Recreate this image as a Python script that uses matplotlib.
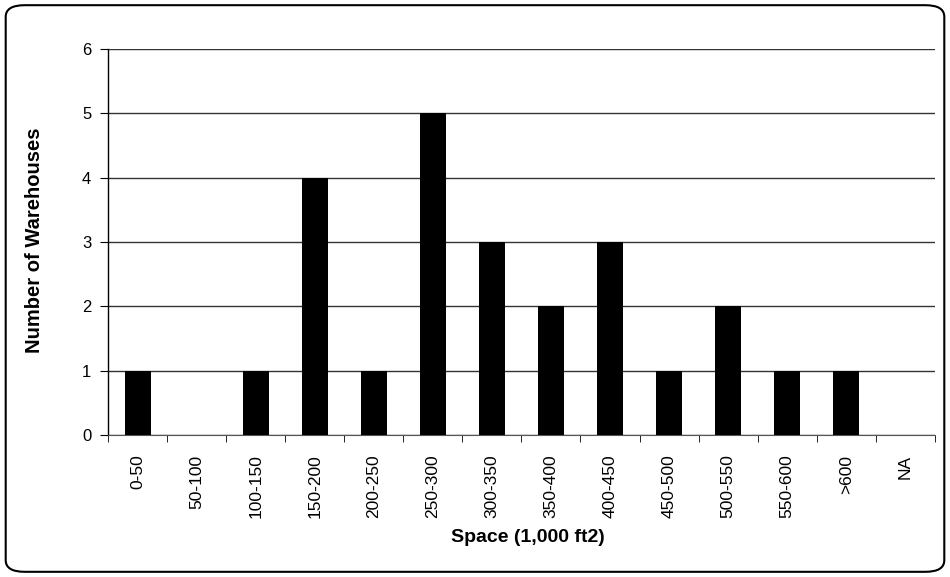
import matplotlib.pyplot as plt
from matplotlib.patches import FancyBboxPatch

# Datos
categorias = ['0-50', '50-100', '100-150', '150-200', '200-250', '250-300',
              '300-350', '350-400', '400-450', '450-500', '500-550',
              '550-600', '>600', 'NA']
almacenes = [1, 0, 1, 4, 1, 5, 3, 2, 3, 1, 2, 1, 1, 0]
y_ticks = [0, 1, 2, 3, 4, 5, 6]

plt.rcParams['font.family'] = ['Liberation Sans', 'DejaVu Sans']

fig = plt.figure(figsize=(9.5, 5.77), dpi=100)
ax = fig.add_axes([0.1137, 0.246, 0.8703, 0.669])

# Marco redondeado alrededor de todo el gráfico
marco = FancyBboxPatch((0.006, 0.009), 0.988, 0.982,
                       boxstyle="round,pad=0,rounding_size=0.02",
                       transform=fig.transFigure, fill=False,
                       edgecolor='black', linewidth=1.5)
fig.patches.append(marco)

x = range(len(categorias))
ax.bar(x, almacenes, width=0.44, color='black', zorder=3)

# Líneas de la cuadrícula
ax.set_yticks(y_ticks)
ax.yaxis.grid(True, color='#333333', linewidth=1, zorder=0)
ax.set_ylim(0, 6)
ax.set_xlim(-0.5, len(categorias) - 0.5)

ax.set_xticks(x)
ax.set_xticklabels(categorias, rotation=90, fontsize=12.5)
ax.tick_params(axis='y', labelsize=12, length=6, pad=6)
ax.tick_params(axis='x', length=0, pad=14)
# marcas entre categorías
ax.set_xticks([i + 0.5 for i in range(-1, len(categorias))], minor=True)
ax.tick_params(axis='x', which='minor', length=5)

for lado in ['top', 'right']:
    ax.spines[lado].set_visible(False)
ax.spines['left'].set_linewidth(1)
ax.spines['bottom'].set_color('#555555')

# Títulos de los ejes
fig.text(528 / 950, 1 - 537 / 577, 'Space (1,000 ft2)', fontsize=14,
         fontweight='bold', ha='center', va='center')
fig.text(35 / 950, 1 - 240 / 577, 'Number of Warehouses', fontsize=14.5,
         fontweight='bold', ha='center', va='center', rotation=90)

fig.savefig('out.png', dpi=100)
